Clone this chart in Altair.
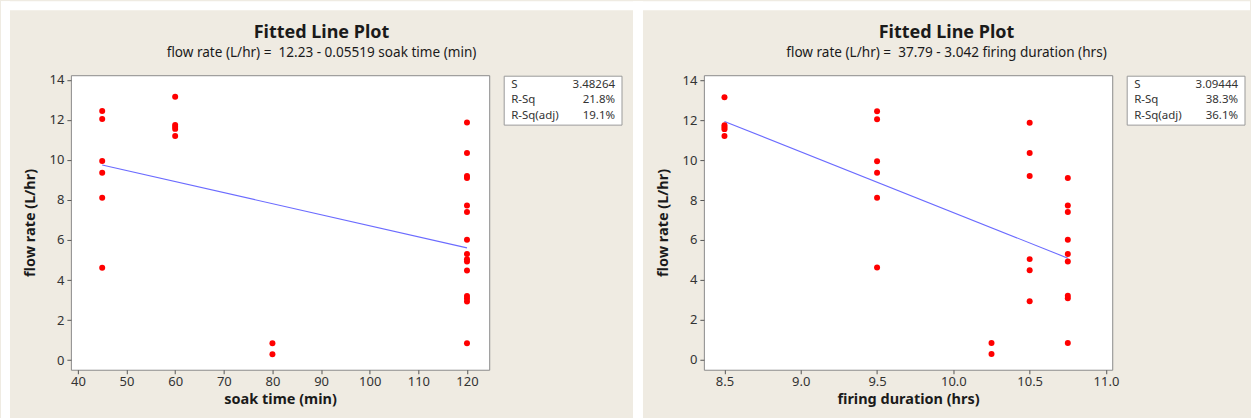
import altair as alt
import pandas as pd

# ---- data ----
soak_time = [60, 60, 60, 60, 60,
             45, 45, 45, 45, 45, 45,
             80, 80,
             120, 120, 120, 120, 120, 120,
             120, 120, 120, 120, 120, 120, 120, 120, 120]
firing_duration = [8.5, 8.5, 8.5, 8.5, 8.5,
                   9.5, 9.5, 9.5, 9.5, 9.5, 9.5,
                   10.25, 10.25,
                   10.5, 10.5, 10.5, 10.5, 10.5, 10.5,
                   10.75, 10.75, 10.75, 10.75, 10.75, 10.75, 10.75, 10.75, 10.75]
flow_rate = [13.15, 11.75, 11.65, 11.55, 11.2,
             12.44, 12.04, 9.94, 9.36, 8.11, 4.62,
             0.84, 0.29,
             11.87, 10.35, 9.2, 5.04, 4.48, 2.93,
             9.1, 7.72, 7.4, 6.01, 5.3, 4.92, 3.2, 3.08, 0.84]

# fitted equations (from the subtitles)
soak_fit = {"a": 12.23, "b": -0.05519, "x": [45, 120]}
firing_fit = {"a": 37.79, "b": -3.042, "x": [8.5, 10.75]}

stats_labels = ["S", "R-Sq", "R-Sq(adj)"]
soak_stats = ["3.48264", "21.8%", "19.1%"]
firing_stats = ["3.09444", "38.3%", "36.1%"]

soak_ticks = [40, 50, 60, 70, 80, 90, 100, 110, 120]
firing_ticks = [8.5, 9.0, 9.5, 10.0, 10.5, 11.0]
flow_ticks = [0, 2, 4, 6, 8, 10, 12, 14]

df = pd.DataFrame({"soak": soak_time, "firing": firing_duration, "flow": flow_rate})
one = pd.DataFrame({"k": [0]})

BEIGE = "#EFEBE2"
FONT = "Noto Sans"
TXT = "#1a1a1a"


def panel(xfield, xtitle, xdomain, xticks, xfmt, w, h, ydomain, fit, subtitle, stats, title_x, strips=False):
    fitdf = pd.DataFrame({xfield: fit["x"], "flow": [fit["a"] + fit["b"] * v for v in fit["x"]]})
    x = alt.X(f"{xfield}:Q", title=xtitle,
              scale=alt.Scale(domain=xdomain, nice=False, zero=False),
              axis=alt.Axis(values=xticks, format=xfmt))
    y = alt.Y("flow:Q", title="flow rate (L/hr)",
              scale=alt.Scale(domain=ydomain, nice=False, zero=False),
              axis=alt.Axis(values=flow_ticks, format="d"))
    layers = []
    if strips:
        # white margins of the picture (top, left, between the two panels)
        for (x1, x2, y1, y2) in [(-70, 1181, -74, -65), (-70, -61, -74, 344), (563, 573, -74, 344)]:
            layers.append(alt.Chart(one).mark_rect(color="white").encode(
                x=alt.value(x1), x2=alt.value(x2), y=alt.value(y1), y2=alt.value(y2)))
    fitline = alt.Chart(fitdf).mark_line(color="#6b6bff", strokeWidth=1.1).encode(x=x, y=y)
    pts = alt.Chart(df).mark_circle(color="#ff0000", size=36, opacity=1).encode(x=x, y=y)
    layers += [fitline, pts]
    # titles
    layers.append(alt.Chart(one).mark_text(text="Fitted Line Plot", font=FONT, fontSize=18,
                                           fontWeight="bold", color=TXT, baseline="middle",
                                           align="center").encode(x=alt.value(title_x), y=alt.value(-42)))
    layers.append(alt.Chart(one).mark_text(text=subtitle, font=FONT, fontSize=13.6,
                                           color=TXT, baseline="middle",
                                           align="center").encode(x=alt.value(title_x), y=alt.value(-22)))
    # stats box
    bx1, bx2 = w + 15, w + 133
    layers.append(alt.Chart(one).mark_rect(fill="white", stroke="#9a9a9a", strokeWidth=1).encode(
        x=alt.value(bx1), x2=alt.value(bx2), y=alt.value(1), y2=alt.value(50)))
    for i, (lab, val) in enumerate(zip(stats_labels, stats)):
        yy = 9.5 + 15.8 * i
        layers.append(alt.Chart(one).mark_text(text=lab, font=FONT, fontSize=11.5, color="#333",
                                               align="left", baseline="middle").encode(
            x=alt.value(bx1 + 7), y=alt.value(yy)))
        layers.append(alt.Chart(one).mark_text(text=val, font=FONT, fontSize=11.5, color="#333",
                                               align="right", baseline="middle").encode(
            x=alt.value(bx2 - 7), y=alt.value(yy)))
    return alt.layer(*layers).properties(width=w, height=h)


left = panel("soak", "soak time (min)", [38.56, 124.57], soak_ticks, "d", 419, 295,
             [-0.48, 14.23], soak_fit,
             "flow rate (L/hr) =\u00a0 12.23 - 0.05519 soak time (min)", soak_stats, 251, strips=True)
right = panel("firing", "firing duration (hrs)", [8.365, 11.041], firing_ticks, ".1f", 409, 295,
              [-0.5, 14.25], firing_fit,
              "flow rate (L/hr) =\u00a0 37.79 - 3.042 firing duration (hrs)", firing_stats, 243)

chart = alt.hconcat(left, right, spacing=215, bounds="flush").properties(
    padding=0, background=BEIGE
).configure_view(
    fill="white", stroke="#8a8a8a", strokeWidth=1
).configure_axis(
    grid=False, domain=False, zindex=1,
    labelFont=FONT, labelFontSize=13, labelColor="#333",
    tickColor="#555", tickSize=4, tickWidth=1,
    titleFont=FONT, titleFontSize=14.5, titleFontWeight="bold", titleColor=TXT
).configure_axisX(
    labelPadding=2, titlePadding=4
).configure_axisY(
    labelPadding=3, titlePadding=12
)

chart.save("out.html", embed_options={"renderer": "svg", "actions": False})
